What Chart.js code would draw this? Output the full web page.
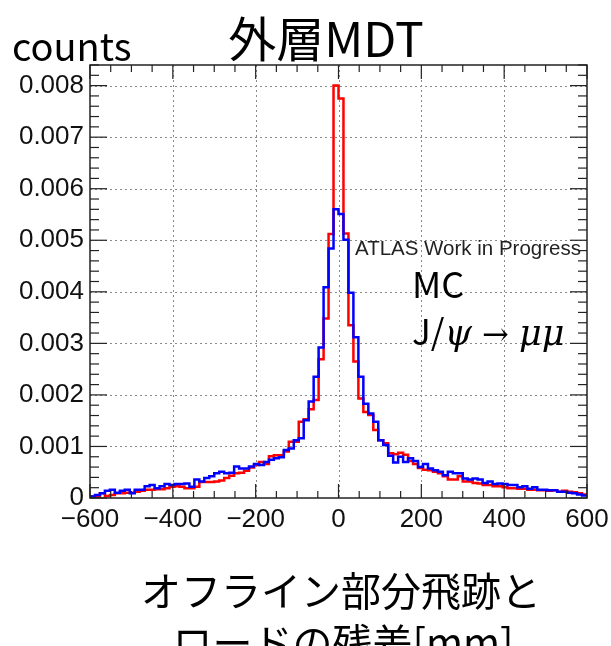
<!DOCTYPE html>
<html>
<head>
<meta charset="utf-8">
<script src="https://cdn.jsdelivr.net/npm/chart.js@4.4.1/dist/chart.umd.min.js"></script>
<style>
html,body{margin:0;padding:0;background:#fff;}
canvas{display:block;}
</style>
</head>
<body>
<canvas id="c" width="611" height="646"></canvas>
<script>
// ---- Data (histogram, 100 bins of 12 mm from -600 to 600) ----
const xMin = -600;
const xMax = 600;
const binWidth = 12;
const xTicks = [-600, -400, -200, 0, 200, 400, 600];
const yTicks = [0, 0.001, 0.002, 0.003, 0.004, 0.005, 0.006, 0.007, 0.008];
const yMax = 0.0084;

// red histogram values per bin (left to right)
const redValues = [
  0.00003,0.00003,0.00009,0.00004,0.00006,0.00009,0.00009,0.00010,0.00010,0.00012,
  0.00014,0.00016,0.00016,0.00017,0.00017,0.00019,0.00022,0.00023,0.00022,0.00019,
  0.00019,0.00022,0.00031,0.00031,0.00031,0.00032,0.00034,0.00039,0.00043,0.00048,
  0.00049,0.00053,0.00059,0.00064,0.00070,0.00066,0.00081,0.00083,0.00083,0.00090,
  0.00109,0.00109,0.00148,0.00153,0.00172,0.00190,0.00269,0.00348,0.00512,0.00800,
  0.00775,0.00513,0.00335,0.00265,0.00193,0.00167,0.00161,0.00132,0.00112,0.00106,
  0.00087,0.00085,0.00088,0.00084,0.00072,0.00066,0.00058,0.00055,0.00054,0.00051,
  0.00048,0.00042,0.00036,0.00036,0.00042,0.00032,0.00032,0.00029,0.00028,0.00025,
  0.00025,0.00023,0.00023,0.00021,0.00019,0.00019,0.00018,0.00018,0.00016,0.00016,
  0.00015,0.00015,0.00014,0.00015,0.00012,0.00014,0.00012,0.00011,0.00009,0.00007
];
// blue histogram values per bin (left to right)
const blueValues = [
  0.00003,0.00006,0.00009,0.00014,0.00016,0.00010,0.00014,0.00016,0.00009,0.00016,
  0.00016,0.00023,0.00025,0.00019,0.00023,0.00027,0.00025,0.00027,0.00027,0.00028,
  0.00022,0.00036,0.00032,0.00039,0.00042,0.00048,0.00051,0.00048,0.00049,0.00061,
  0.00057,0.00057,0.00061,0.00066,0.00064,0.00070,0.00074,0.00077,0.00079,0.00093,
  0.00096,0.00112,0.00116,0.00151,0.00187,0.00235,0.00292,0.00409,0.00484,0.00560,
  0.00551,0.00501,0.00398,0.00312,0.00235,0.00183,0.00164,0.00148,0.00112,0.00103,
  0.00082,0.00069,0.00080,0.00070,0.00077,0.00072,0.00060,0.00066,0.00057,0.00054,
  0.00051,0.00044,0.00051,0.00048,0.00048,0.00038,0.00036,0.00038,0.00036,0.00029,
  0.00032,0.00027,0.00028,0.00027,0.00025,0.00025,0.00021,0.00023,0.00018,0.00021,
  0.00016,0.00016,0.00015,0.00015,0.00012,0.00012,0.00010,0.00009,0.00007,0.00005
];

// build step points (bin low edges + closing edge)
function stepPoints(vals){
  const pts = vals.map((v,i)=>({x: xMin + i*binWidth, y: v}));
  pts.push({x: xMax, y: vals[vals.length-1]});
  return pts;
}

const FRAME = '#222';
const decor = {
  id:'decor',
  beforeDatasetsDraw(chart){
    const {ctx, chartArea:a, scales:{x,y}} = chart;
    ctx.save();
    ctx.strokeStyle = '#8a8a8a';
    ctx.lineWidth = 1;
    ctx.setLineDash([2,3]);
    xTicks.forEach(v=>{
      if(v<=xMin||v>=xMax) return;
      const px = Math.round(x.getPixelForValue(v))+0.5;
      ctx.beginPath(); ctx.moveTo(px,a.top); ctx.lineTo(px,a.bottom); ctx.stroke();
    });
    yTicks.forEach(v=>{
      if(v<=0) return;
      const py = Math.round(y.getPixelForValue(v))+0.5;
      ctx.beginPath(); ctx.moveTo(a.left,py); ctx.lineTo(a.right,py); ctx.stroke();
    });
    ctx.restore();
  },
  afterDatasetsDraw(chart){
    const {ctx, chartArea:a, scales:{x,y}} = chart;
    ctx.save();
    ctx.strokeStyle = FRAME;
    ctx.lineWidth = 1.5;
    ctx.setLineDash([]);
    ctx.strokeRect(a.left, a.top, a.right-a.left, a.bottom-a.top);
    ctx.lineWidth = 1.2;
    // x ticks (major 200, minor 50)
    for(let v=xMin; v<=xMax; v+=50){
      const major = (v % 200)===0;
      const len = major?14:7;
      const px = x.getPixelForValue(v);
      ctx.beginPath(); ctx.moveTo(px,a.bottom); ctx.lineTo(px,a.bottom-len); ctx.stroke();
      ctx.beginPath(); ctx.moveTo(px,a.top); ctx.lineTo(px,a.top+len); ctx.stroke();
    }
    // y ticks (major 0.001, minor 0.0002)
    for(let k=0; k<=42; k++){
      const v = k*0.0002;
      const major = (k%5)===0;
      const len = major?17:9;
      const py = y.getPixelForValue(v);
      ctx.beginPath(); ctx.moveTo(a.left,py); ctx.lineTo(a.left+len,py); ctx.stroke();
      ctx.beginPath(); ctx.moveTo(a.right,py); ctx.lineTo(a.right-len,py); ctx.stroke();
    }
    ctx.restore();
  },
  afterDraw(chart){
    const ctx = chart.ctx;
    ctx.save();
    ctx.fillStyle = '#000';
    ctx.textBaseline = 'alphabetic';
    // title
    ctx.textAlign = 'center';
    ctx.font = '48px "Noto Sans CJK JP"';
    ctx.fillText('外層MDT', 326, 57);
    // y label
    ctx.textAlign = 'left';
    ctx.font = '38px "Noto Sans CJK JP"';
    ctx.fillText('counts', 12, 61);
    // annotations
    ctx.fillStyle = '#222';
    ctx.font = '20.5px "Liberation Sans"';
    ctx.fillText('ATLAS Work in Progress', 355, 255);
    ctx.fillStyle = '#000';
    ctx.font = '36px "Noto Sans CJK JP"';
    ctx.fillText('MC', 412, 298);
    let xx = 412;
    const seg = (t, f)=>{ ctx.font = f; ctx.fillText(t, xx, 345); xx += ctx.measureText(t).width; };
    seg('J/', '35px "Noto Sans CJK JP"');
    seg('ψ', 'italic 35px "DejaVu Serif"');
    seg(' → ', '32px "DejaVu Serif"');
    seg('μμ', 'italic 35px "DejaVu Serif"');
    // x title
    ctx.textAlign = 'center';
    ctx.textBaseline = 'middle';
    ctx.font = '40px "Noto Sans CJK JP"';
    ctx.fillText('オフライン部分飛跡と', 341, 591);
    ctx.fillText('ロードの残差[mm]', 343, 643);
    ctx.restore();
  }
};

new Chart(document.getElementById('c'), {
  type: 'line',
  data: {
    datasets: [
      { label:'blue', data: stepPoints(blueValues), borderColor:'#0000ff', borderWidth:2.5, stepped:'before', pointRadius:0, fill:false },
      { label:'red', data: stepPoints(redValues), borderColor:'#ff0000', borderWidth:2.5, stepped:'before', pointRadius:0, fill:false }
    ]
  },
  options: {
    responsive:false, animation:false, devicePixelRatio:1,
    layout:{padding:{left:0, right:24, top:65, bottom:0}},
    plugins:{legend:{display:false}, tooltip:{enabled:false}, title:{display:false}},
    scales:{
      x:{
        type:'linear', min:xMin, max:xMax,
        grid:{display:false, drawTicks:false}, border:{display:false},
        afterBuildTicks:(s)=>{ s.ticks = xTicks.map(v=>({value:v})); },
        afterFit:(s)=>{ s.height = 148; s.paddingLeft = 0; s.paddingRight = 0; },
        ticks:{ font:{family:'Liberation Sans', size:26}, color:'#111', padding:6, maxRotation:0, autoSkip:false,
          callback:(v)=> v<0 ? '\u2212'+Math.abs(v) : String(v) }
      },
      y:{
        type:'linear', min:0, max:yMax,
        grid:{display:false, drawTicks:false}, border:{display:false},
        afterBuildTicks:(s)=>{ s.ticks = yTicks.map(v=>({value:v})); },
        afterFit:(s)=>{ s.width = 90; s.paddingTop = 0; s.paddingBottom = 0; },
        ticks:{ font:{family:'Liberation Sans', size:26}, color:'#111', padding:6,
          callback:(v)=> v===0 ? '0' : v.toFixed(3) }
      }
    }
  },
  plugins:[decor]
});
</script>
</body>
</html>
